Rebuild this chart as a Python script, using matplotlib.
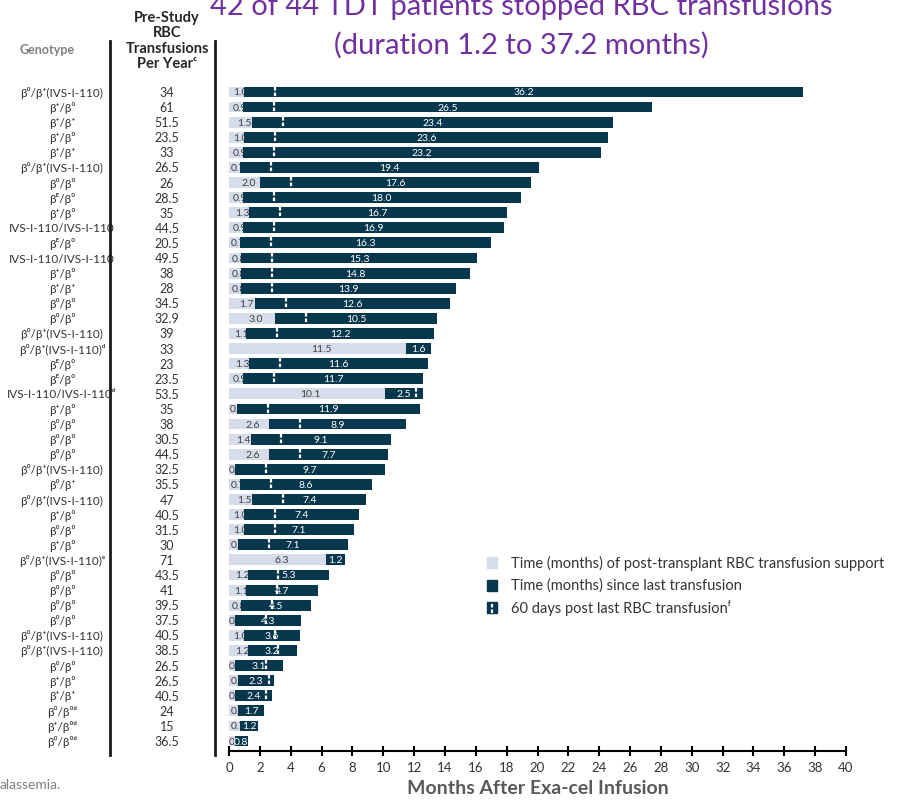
import matplotlib
matplotlib.use("Agg")
import matplotlib.pyplot as plt
import matplotlib.transforms as mtransforms
from matplotlib.patches import Rectangle

plt.rcParams['font.family'] = ['Lato', 'DejaVu Sans']

# data, top row first
genotypes = [
    "β⁰/β⁺(IVS-I-110)", "β⁺/β⁰", "β⁺/β⁺", "β⁺/β⁰", "β⁺/β⁺",
    "β⁰/β⁺(IVS-I-110)", "β⁰/β⁰", "βᴱ/β⁰", "β⁺/β⁰", "IVS-I-110/IVS-I-110",
    "βᴱ/β⁰", "IVS-I-110/IVS-I-110", "β⁺/β⁰", "β⁺/β⁺", "β⁰/β⁰",
    "β⁰/β⁰", "β⁰/β⁺(IVS-I-110)", "β⁰/β⁺(IVS-I-110)ᵈ", "βᴱ/β⁰", "βᴱ/β⁰",
    "IVS-I-110/IVS-I-110ᵈ", "β⁺/β⁰", "β⁰/β⁰", "β⁰/β⁰", "β⁰/β⁰",
    "β⁰/β⁺(IVS-I-110)", "β⁰/β⁺", "β⁰/β⁺(IVS-I-110)", "β⁺/β⁰", "β⁰/β⁰",
    "β⁺/β⁰", "β⁰/β⁺(IVS-I-110)ᵉ", "β⁰/β⁰", "β⁰/β⁰", "β⁰/β⁰",
    "β⁰/β⁰", "β⁰/β⁺(IVS-I-110)", "β⁰/β⁺(IVS-I-110)", "β⁰/β⁰", "β⁺/β⁰",
    "β⁺/β⁺", "β⁰/β⁰ᵈ", "β⁺/β⁰ᵈ", "β⁰/β⁰ᵈ",
]
transfusions_per_year = [
    "34", "61", "51.5", "23.5", "33", "26.5", "26", "28.5", "35", "44.5",
    "20.5", "49.5", "38", "28", "34.5", "32.9", "39", "33", "23", "23.5",
    "53.5", "35", "38", "30.5", "44.5", "32.5", "35.5", "47", "40.5", "31.5",
    "30", "71", "43.5", "41", "39.5", "37.5", "40.5", "38.5", "26.5", "26.5",
    "40.5", "24", "15", "36.5",
]
support_months = [
    1.0, 0.9, 1.5, 1.0, 0.9, 0.7, 2.0, 0.9, 1.3, 0.9,
    0.7, 0.8, 0.8, 0.8, 1.7, 3.0, 1.1, 11.5, 1.3, 0.9,
    10.1, 0.5, 2.6, 1.4, 2.6, 0.4, 0.7, 1.5, 1.0, 1.0,
    0.6, 6.3, 1.2, 1.1, 0.8, 0.4, 1.0, 1.2, 0.4, 0.6,
    0.4, 0.6, 0.7, 0.4,
]
free_months = [
    36.2, 26.5, 23.4, 23.6, 23.2, 19.4, 17.6, 18.0, 16.7, 16.9,
    16.3, 15.3, 14.8, 13.9, 12.6, 10.5, 12.2, 1.6, 11.6, 11.7,
    2.5, 11.9, 8.9, 9.1, 7.7, 9.7, 8.6, 7.4, 7.4, 7.1,
    7.1, 1.2, 5.3, 4.7, 4.5, 4.3, 3.6, 3.2, 3.1, 2.3,
    2.4, 1.7, 1.2, 0.8,
]
marker_offset = 2.0  # 60 days post last transfusion, in months

light = '#D6DCEA'
dark = '#06374D'
purple = '#7030A0'
grey = '#595959'

W, H = 900, 803
fig = plt.figure(figsize=(9, 8.03), dpi=100)
ax = fig.add_axes([229 / W, 1 - 752 / H, 617 / W, 669 / H])

n = len(genotypes)
rows = list(range(n))
bh = 0.72

ax.barh(rows, support_months, height=bh, color=light, zorder=1)
ax.barh(rows, free_months, left=support_months, height=bh, color=dark, zorder=3)

for i in rows:
    s, f = support_months[i], free_months[i]
    ax.text(s / 2 + 0.25, i, f"{s:.1f}", ha='center', va='center',
            fontsize=7.5, color='#404040', zorder=2)
    ax.text(s + f / 2, i, f"{f:.1f}", ha='center', va='center',
            fontsize=7.5, color='white', zorder=4)
    m = s + marker_offset
    if m < s + f:
        ax.vlines(m, i - bh / 2, i + bh / 2, colors='white', lw=1.6,
                  linestyles=(0, (1.6, 0.9)), zorder=5)

ax.set_xlim(0, 40)
ax.set_ylim(n - 1 + 0.66, -0.66)
ax.set_xticks(range(0, 41, 2))
ax.set_yticks([])
for sp in ['top', 'right', 'left']:
    ax.spines[sp].set_visible(False)
ax.spines['bottom'].set_linewidth(1.5)
ax.tick_params(axis='x', direction='inout', length=7, width=1.5,
               labelsize=9.5, labelcolor='#333333', pad=4)
ax.set_xlabel("Months After Exa-cel Infusion", fontsize=14, fontweight='bold',
              color=grey, labelpad=4)

# left table columns
tr = mtransforms.blended_transform_factory(fig.transFigure, ax.transData)
for i in rows:
    ax.text(62 / W, i, genotypes[i], transform=tr, ha='center', va='center',
            fontsize=8.5, color='#333333', clip_on=False)
    ax.text(167 / W, i, transfusions_per_year[i], transform=tr, ha='center',
            va='center', fontsize=9, color='#333333', clip_on=False)

fig.text(47 / W, 1 - 50 / H, "Genotype", ha='center', va='center',
         fontsize=9, fontweight='bold', color='#7F7F7F')
fig.text(167 / W, 1 - 41 / H, "Pre-Study\nRBC\nTransfusions\nPer Yearᶜ",
         ha='center', va='center', fontsize=10.5, fontweight='bold',
         color='#262626', linespacing=1.15)

for xp in (110, 215):
    fig.add_artist(plt.Line2D([xp / W, xp / W], [1 - 42 / H, 1 - 756 / H],
                              color='#1a1a1a', lw=2))

# title
fig.text(521 / W, 1 - 15 / H, "42 of 44 TDT patients stopped RBC transfusions",
         ha='center', va='baseline', fontsize=21, color=purple)
fig.text(521 / W, 1 - 54 / H, "(duration 1.2 to 37.2 months)",
         ha='center', va='baseline', fontsize=21, color=purple)

# legend
leg_items = [
    (563, light, "Time (months) of post-transplant RBC transfusion support"),
    (586, dark, "Time (months) since last transfusion"),
    (608, dark, "60 days post last RBC transfusionᶠ"),
]
for k, (yc, col, label) in enumerate(leg_items):
    fig.add_artist(Rectangle((487 / W, 1 - (yc + 5.5) / H), 10 / W, 11 / H,
                             color=col, transform=fig.transFigure))
    if k == 2:
        fig.add_artist(plt.Line2D([492 / W, 492 / W],
                                  [1 - (yc + 5.5) / H, 1 - (yc - 5.5) / H],
                                  color='white', lw=1.6,
                                  linestyle=(0, (1.6, 0.9))))
    fig.text(511 / W, 1 - yc / H, label, ha='left', va='center',
             fontsize=10.5, color='#333333')

fig.text(0, 1 - 785 / H, "alassemia.", ha='left', va='center',
         fontsize=10, color='#7F7F7F')

fig.savefig("out.png", dpi=100)
